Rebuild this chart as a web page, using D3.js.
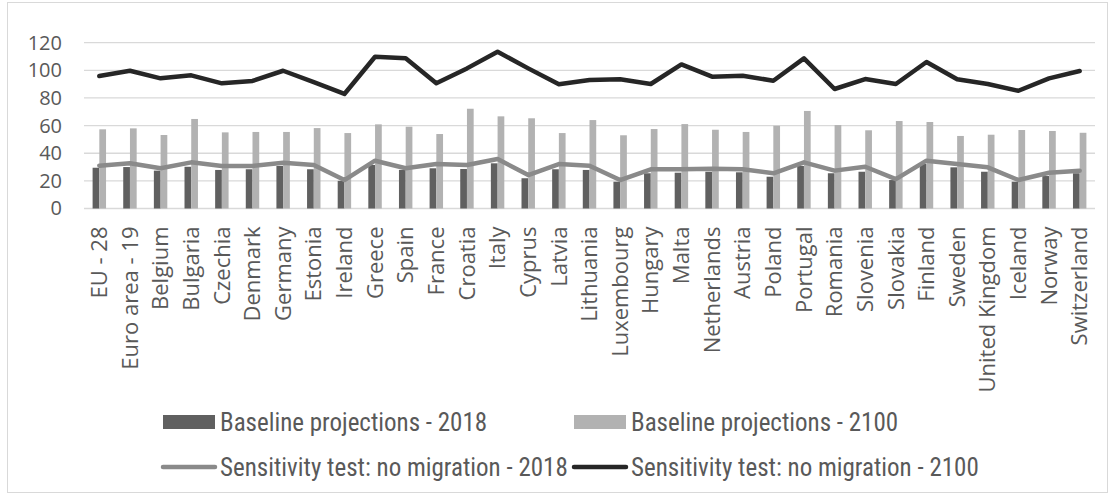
<!DOCTYPE html>
<html>
<head>
<meta charset="utf-8">
<script src="https://cdn.jsdelivr.net/npm/d3@7"></script>
<style>
	body { margin: 0; background: #fff; }
	svg { display: block; }
</style>
</head>
<body>
<div id="chart"></div>
<script>
const categories = ["EU - 28", "Euro area - 19", "Belgium", "Bulgaria", "Czechia", "Denmark", "Germany", "Estonia", "Ireland", "Greece", "Spain", "France", "Croatia", "Italy", "Cyprus", "Latvia", "Lithuania", "Luxembourg", "Hungary", "Malta", "Netherlands", "Austria", "Poland", "Portugal", "Romania", "Slovenia", "Slovakia", "Finland", "Sweden", "United Kingdom", "Iceland", "Norway", "Switzerland"];

const baseline2018 = [29.5, 30.0, 27.4, 30.2, 27.9, 28.4, 30.8, 28.4, 20.0, 31.5, 27.9, 29.1, 28.6, 32.7, 21.9, 28.4, 27.9, 19.4, 25.5, 25.9, 26.6, 26.2, 23.0, 30.8, 25.5, 26.6, 20.6, 32.2, 29.8, 26.6, 19.4, 23.5, 25.5];
const baseline2100 = [57.3, 58.0, 53.2, 64.8, 55.1, 55.4, 55.4, 58.2, 54.6, 60.9, 59.2, 53.9, 72.2, 66.7, 65.3, 54.6, 64.0, 53.0, 57.5, 61.1, 57.0, 55.4, 59.9, 70.6, 60.4, 56.6, 63.3, 62.6, 52.5, 53.4, 56.8, 56.1, 54.8];
const noMigration2018 = [31.0, 32.7, 29.1, 33.4, 30.8, 30.8, 33.1, 31.5, 20.6, 34.6, 29.1, 32.2, 31.5, 35.8, 24.2, 32.2, 31.0, 20.6, 28.4, 28.4, 28.8, 28.4, 25.5, 33.4, 27.4, 30.2, 21.3, 34.6, 32.2, 29.8, 20.6, 25.9, 27.4];
const noMigration2100 = [95.9, 99.7, 94.2, 96.4, 90.6, 92.3, 99.7, 91.5, 82.9, 109.8, 108.7, 90.6, 101.4, 113.5, 101.4, 89.9, 93.0, 93.5, 90.1, 104.3, 95.4, 96.1, 92.5, 108.7, 86.5, 93.7, 90.1, 106.0, 93.5, 90.1, 85.2, 94.2, 99.5];
const yTicks = [0, 20, 40, 60, 80, 100, 120];

const barSeries = [
	{name: "Baseline projections - 2018", values: baseline2018, color: "#606060"},
	{name: "Baseline projections - 2100", values: baseline2100, color: "#b2b2b2"}
];
const lineSeries = [
	{name: "Sensitivity test: no migration - 2018", values: noMigration2018, color: "#8a8a8a"},
	{name: "Sensitivity test: no migration - 2100", values: noMigration2100, color: "#262626"}
];

const width = 1111, height = 494;
const plot = {left: 84, right: 1095, top: 42.7, bottom: 208.5};
const axisFont = "'Open Sans', 'Noto Sans', sans-serif";
const legendFont = "'Liberation Sans Narrow', 'Roboto Condensed', 'DejaVu Sans Condensed', Roboto, sans-serif";

const svg = d3.select("#chart").append("svg")
	.attr("width", width)
	.attr("height", height);

// chart border
svg.append("rect")
	.attr("x", 7.5).attr("y", 2.5)
	.attr("width", 1100).attr("height", 490)
	.attr("fill", "#fff")
	.attr("stroke", "#d9d9d9");

const x0 = d3.scaleBand().domain(categories).range([plot.left, plot.right]).padding(0);
const x1 = d3.scaleBand().domain(barSeries.map(s => s.name)).range([0, x0.bandwidth()])
	.paddingInner(0).paddingOuter(1.28);
const y = d3.scaleLinear().domain([0, 120]).range([plot.bottom, plot.top]);

// gridlines
svg.append("g").selectAll("line")
	.data(yTicks)
	.enter().append("line")
	.attr("x1", plot.left).attr("x2", plot.right)
	.attr("y1", d => y(d)).attr("y2", d => y(d))
	.attr("stroke", "#d9d9d9")
	.attr("stroke-width", 1.3);

// y axis labels
const yAxis = d3.axisLeft(y).tickValues(yTicks).tickSize(0).tickPadding(0);
const yAxisGroup = svg.append("g")
	.attr("transform", "translate(62,0)")
	.call(yAxis);
yAxisGroup.attr("font-family", axisFont).attr("font-size", 20);
yAxisGroup.select(".domain").remove();
yAxisGroup.selectAll("text").attr("fill", "#595959");

// bars
barSeries.forEach(s => {
	svg.append("g").selectAll("rect")
		.data(s.values)
		.enter().append("rect")
		.attr("x", (d, i) => x0(categories[i]) + x1(s.name))
		.attr("y", d => y(d))
		.attr("width", x1.bandwidth())
		.attr("height", d => y(0) - y(d))
		.attr("fill", s.color);
});

// lines
const line = d3.line()
	.x((d, i) => x0(categories[i]) + x0.bandwidth() / 2)
	.y(d => y(d));
lineSeries.forEach(s => {
	svg.append("path")
		.datum(s.values)
		.attr("d", line)
		.attr("fill", "none")
		.attr("stroke", s.color)
		.attr("stroke-width", 4.5)
		.attr("stroke-linejoin", "round")
		.attr("stroke-linecap", "round");
});

// x axis labels
const xAxis = d3.axisBottom(x0).tickSize(0).tickPadding(0);
const xAxisGroup = svg.append("g")
	.attr("transform", "translate(0," + y(0) + ")")
	.call(xAxis);
xAxisGroup.attr("font-family", axisFont).attr("font-size", 22);
xAxisGroup.select(".domain").remove();
xAxisGroup.selectAll("text")
	.attr("fill", "#595959")
	.attr("transform", "rotate(-90)")
	.attr("text-anchor", "end")
	.attr("x", -18).attr("y", 0).attr("dy", "0.35em");

// legend
const legendItems = [
	{s: barSeries[0], type: "bar", x: 163, y: 422},
	{s: barSeries[1], type: "bar", x: 574, y: 422},
	{s: lineSeries[0], type: "line", x: 163, y: 467},
	{s: lineSeries[1], type: "line", x: 574, y: 467}
];
const legend = svg.append("g").selectAll("g")
	.data(legendItems)
	.enter().append("g")
	.attr("transform", d => "translate(" + d.x + "," + d.y + ")");
legend.filter(d => d.type === "bar").append("rect")
	.attr("x", 0).attr("y", -7)
	.attr("width", 52).attr("height", 14)
	.attr("fill", d => d.s.color);
legend.filter(d => d.type === "line").append("line")
	.attr("x1", 0).attr("x2", 52)
	.attr("stroke", d => d.s.color)
	.attr("stroke-width", 4.5)
	.attr("stroke-linecap", "round");
legend.append("text")
	.attr("x", 57)
	.attr("dy", "0.35em")
	.attr("font-family", legendFont)
	.attr("font-size", 25)
	.attr("fill", "#595959")
	.text(d => d.s.name);
</script>
</body>
</html>
